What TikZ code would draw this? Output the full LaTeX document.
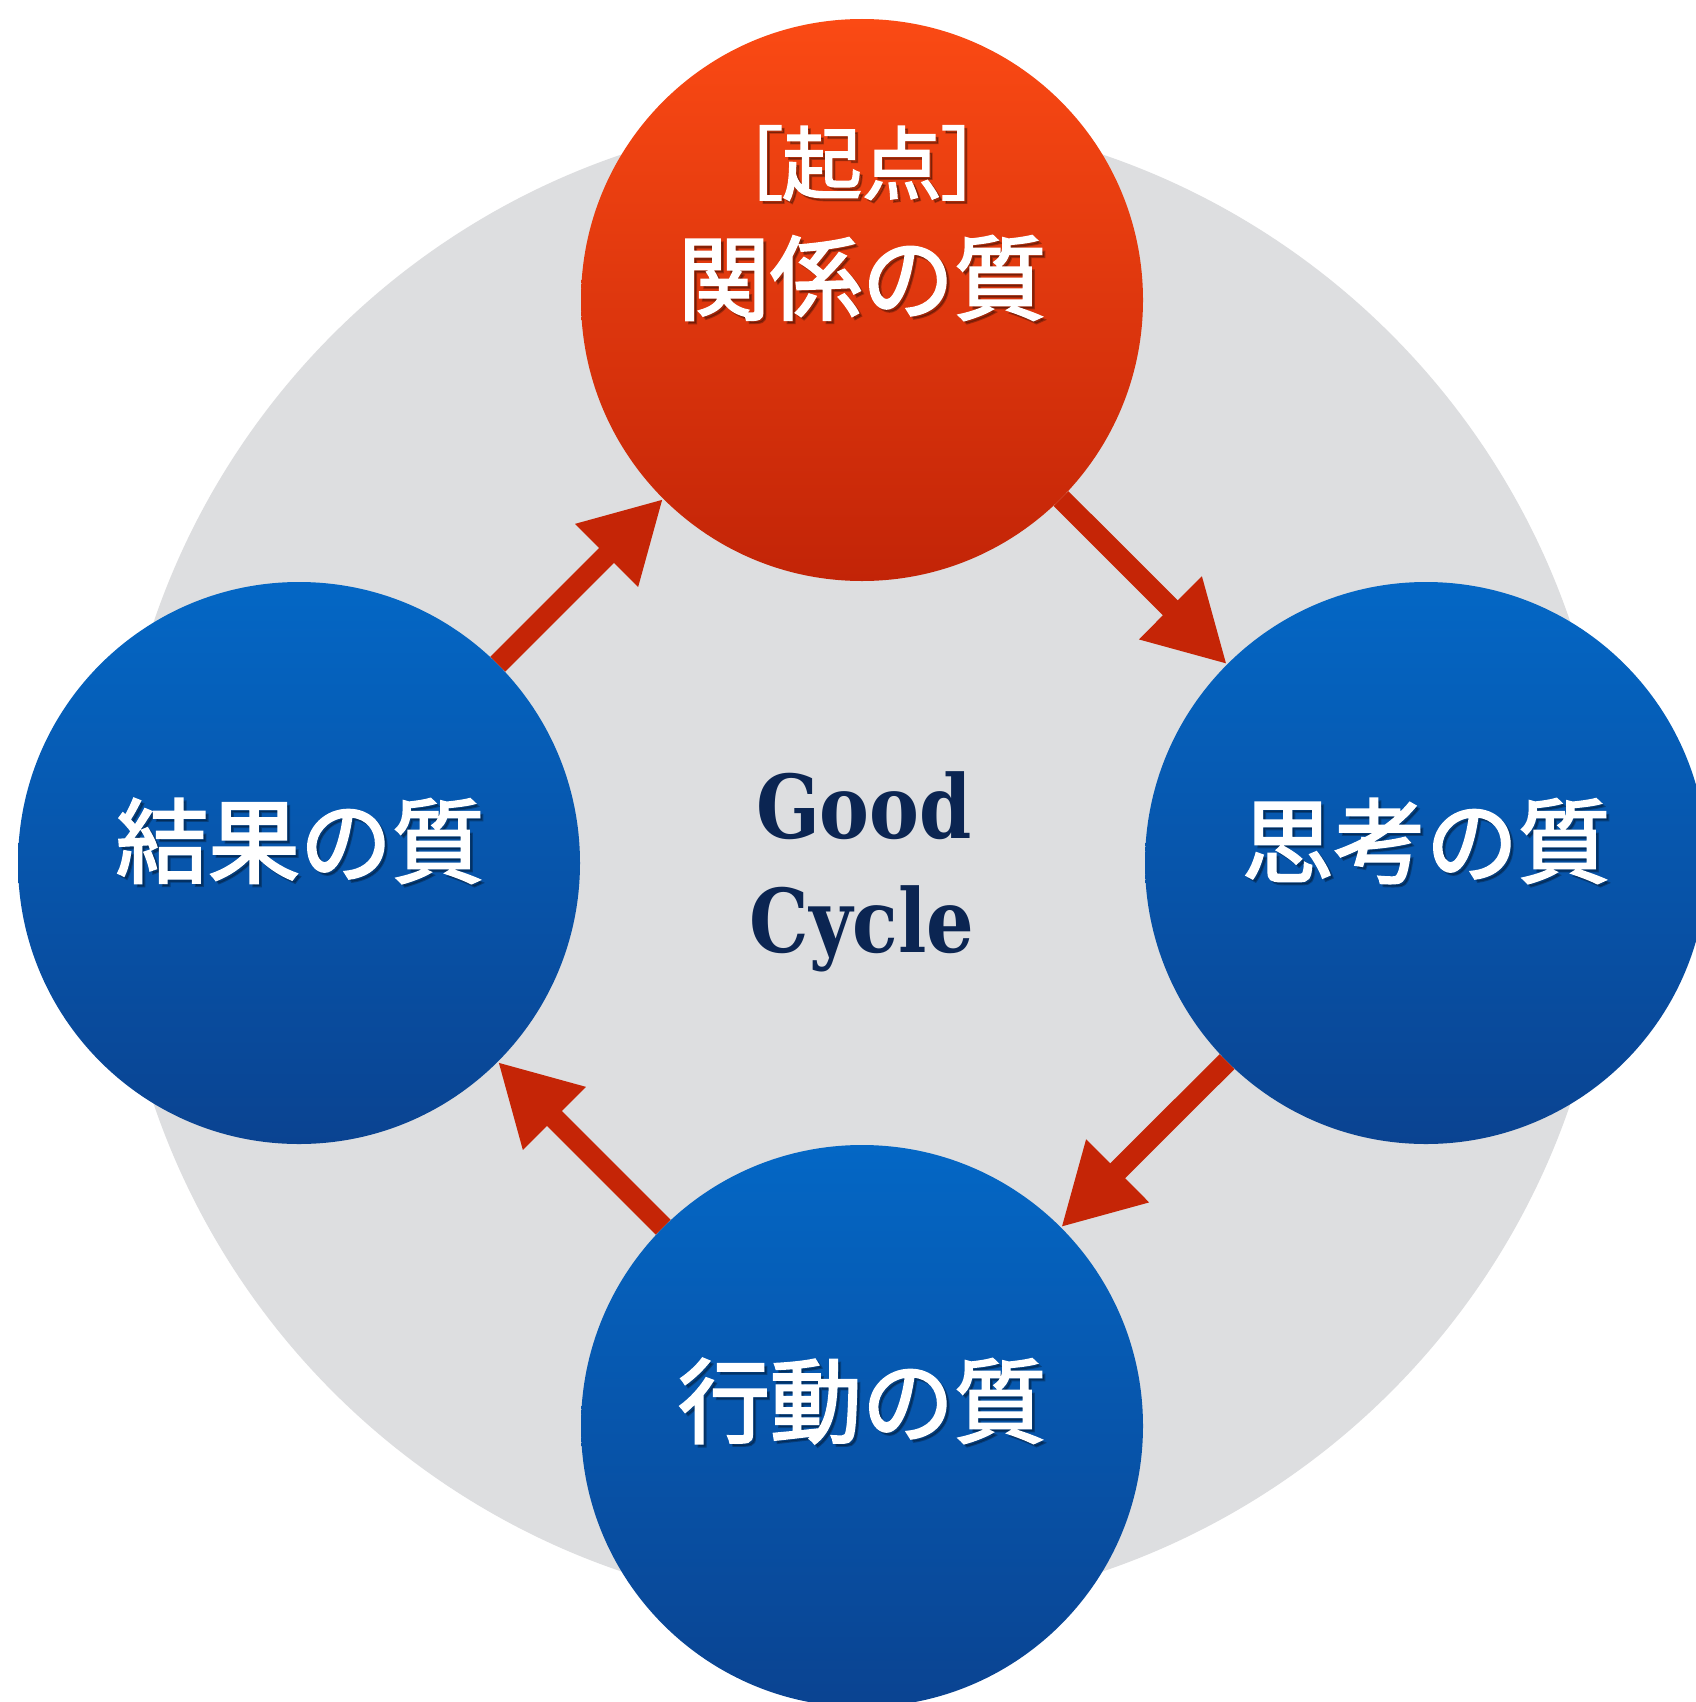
\documentclass[tikz,border=0pt]{standalone}
\usepackage{fontspec}
\usetikzlibrary{arrows.meta}
\newfontfamily\jp{Noto Sans CJK JP}[FakeBold=2.4]
\newfontfamily\jpbr{Noto Sans CJK JP}[RawFeature=+palt,FakeBold=2.0]
\newfontfamily\gc{DejaVu Serif}[FakeStretch=0.85]
\definecolor{bgray}{HTML}{DDDEE0}
\definecolor{otop}{HTML}{FB4A14}
\definecolor{obot}{HTML}{C22407}
\definecolor{btop}{HTML}{0467C5}
\definecolor{bbot}{HTML}{0A4391}
\definecolor{arrc}{HTML}{C52506}
\definecolor{navy}{HTML}{0B2552}
\begin{document}
\begin{tikzpicture}[x=1pt,y=-1pt,
  ball/.style={circle,inner sep=0pt,minimum size=562pt,shading=axis},
  redball/.style={ball,top color=otop,bottom color=obot},
  blueball/.style={ball,top color=btop,bottom color=bbot},
  cyc/.style={draw=arrc,line width=21pt,-{Triangle[length=80pt,width=83pt]}},
  lab/.style={text=white,inner sep=0pt,font=\jp\fontsize{92}{110}\selectfont},
  brk/.style={text=white,inner sep=0pt,font=\jpbr\fontsize{80}{96}\selectfont},
  shd/.style={text=black,opacity=0.28},
  gcyc/.style={text=navy,inner sep=0pt,anchor=base,font=\gc\bfseries\fontsize{88}{100}\selectfont}
]
\useasboundingbox (0,0) rectangle (1696,1702);
\fill[white] (0,0) rectangle (1696,1702);
\node[circle,fill=bgray,inner sep=0pt,minimum size=1496pt] (bg) at (862,863) {};
\node[redball] (top) at (862,300) {};
\node[blueball] (right) at (1426,863) {};
\node[blueball] (bottom) at (862,1426) {};
\node[blueball] (left) at (299,863) {};
% arrows
\draw[cyc] (left) -- (top);
\draw[cyc] (top) -- (right);
\draw[cyc] (right) -- (bottom);
\draw[cyc] (bottom) -- (left);
% shadows of labels
\node[brk,shd] (s1) at (865,166) {［起点］};
\node[lab,shd] (s2) at (865,281) {関係の質};
\node[lab,shd] (s3) at (303,844) {結果の質};
\node[lab,shd] (s4) at (1429,844) {思考の質};
\node[lab,shd] (s5) at (865,1404) {行動の質};
% labels
\node[brk] (t1) at (862,163) {［起点］};
\node[lab] (t2) at (862,278) {関係の質};
\node[lab] (t3) at (300,841) {結果の質};
\node[lab] (t4) at (1426,841) {思考の質};
\node[lab] (t5) at (862,1401) {行動の質};
% centre text
\node[gcyc] (good) at (864,838) {Good};
\node[gcyc] (cycle) at (862,952) {Cycle};
\end{tikzpicture}
\end{document}
